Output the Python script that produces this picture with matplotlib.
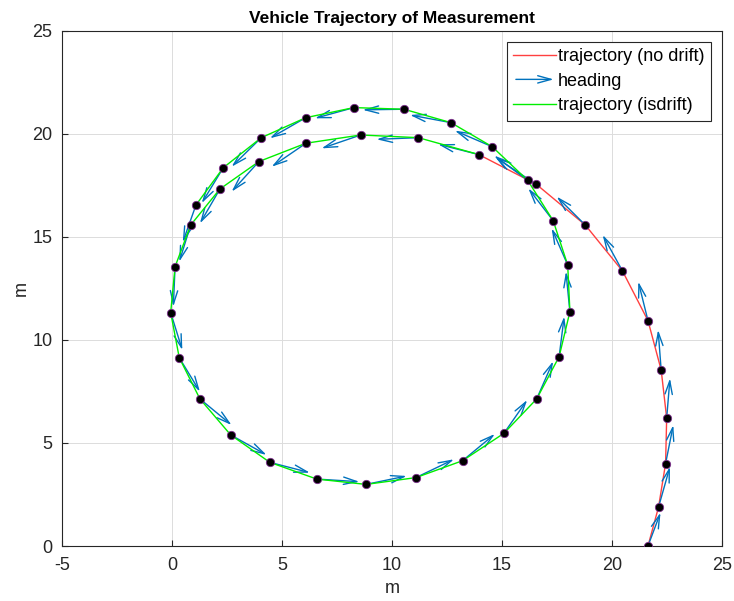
import matplotlib.pyplot as plt
from matplotlib.lines import Line2D
from matplotlib.patches import FancyArrowPatch
from matplotlib.legend_handler import HandlerBase

plt.rcParams['font.family'] = ['Liberation Sans', 'DejaVu Sans']
plt.rcParams['axes.unicode_minus'] = False

# measured positions (m), in driving order
xs = [21.64, 22.12, 22.44, 22.49, 22.24, 21.64, 20.48, 18.79, 16.56,
      13.95, 11.2, 8.58, 6.09, 3.95, 2.18, 0.85, 0.14, -0.06, 0.33, 1.27,
      2.67, 4.45, 6.58, 8.82, 11.09, 13.21, 15.09, 16.58, 17.6, 18.09,
      17.99, 17.33, 16.17, 14.56, 12.68, 10.55, 8.27, 6.08, 4.06, 2.33, 1.09]
ys = [0.0, 1.89, 4.0, 6.21, 8.54, 10.94, 13.35, 15.58, 17.56,
      19.0, 19.82, 19.95, 19.55, 18.66, 17.33, 15.58, 13.56, 11.33, 9.14, 7.14,
      5.39, 4.06, 3.25, 2.99, 3.32, 4.14, 5.47, 7.14, 9.19, 11.37,
      13.64, 15.79, 17.75, 19.38, 20.55, 21.2, 21.28, 20.79, 19.82, 18.36, 16.55]

# heading vectors at each point
us = [0.57, 0.52, 0.35, 0.15, -0.14, -0.44, -0.9, -1.3, -1.85,
      -1.85, -1.9, -1.78, -1.56, -1.24, -0.91, -0.52, -0.08, 0.53, 0.94, 1.44,
      1.63, 1.82, 1.94, 1.85, 1.73, 1.47, 1.06, 0.75, 0.23, -0.18,
      -0.73, -1.13, -1.52, -1.7, -1.86, -1.88, -1.77, -1.63, -1.35, -0.98, -0.6]
vs = [1.62, 1.96, 1.87, 1.93, 1.95, 1.89, 1.75, 1.38, 1.3,
      0.5, -0.08, -0.65, -1.14, -1.46, -1.67, -1.78, -1.94, -1.82, -1.65, -1.27,
      -0.97, -0.5, -0.13, 0.41, 0.89, 1.3, 1.62, 1.83, 1.95, 1.95,
      1.78, 1.57, 1.2, 0.78, 0.37, -0.03, -0.52, -1.0, -1.41, -1.72, -1.8]

drift_start = 9  # index where drift begins

blue = '#0072BD'
red = '#ff4040'
green = '#00ee00'
arrow_style = '->,head_length=0.8,head_width=0.22'

fig = plt.figure(figsize=(7.34, 6.01), dpi=100)
ax = fig.add_axes([0.0845, 0.0915, 0.899, 0.857])

ax.plot(xs[:drift_start + 1], ys[:drift_start + 1], color=red, lw=1, zorder=2)

for x, y, u, v in zip(xs, ys, us, vs):
    ax.annotate('', xy=(x + u, y + v), xytext=(x, y),
                arrowprops=dict(arrowstyle=arrow_style, color=blue, lw=1,
                                shrinkA=0, shrinkB=0, mutation_scale=12),
                zorder=3)

ax.plot(xs[drift_start:], ys[drift_start:], color=green, lw=1, zorder=4)
ax.plot(xs, ys, 'o', color='black', markersize=6, markeredgecolor='#7E2F8E',
        markeredgewidth=0.6, zorder=5)


class ArrowHandler(HandlerBase):
    def create_artists(self, legend, orig, xdescent, ydescent, width, height, fontsize, trans):
        p = FancyArrowPatch((-xdescent, height / 2 - ydescent),
                            (width - xdescent, height / 2 - ydescent),
                            arrowstyle=arrow_style, color=blue, lw=1,
                            mutation_scale=12, transform=trans)
        return [p]


h_red = Line2D([], [], color=red, lw=1)
h_arrow = Line2D([], [], color=blue)
h_green = Line2D([], [], color=green, lw=1)
leg = ax.legend([h_red, h_arrow, h_green],
                ['trajectory (no drift)', 'heading', 'trajectory (isdrift)'],
                handler_map={h_arrow: ArrowHandler()},
                loc='upper right', fontsize=13, fancybox=False, framealpha=1,
                edgecolor='#262626', borderpad=0.35, labelspacing=0.42,
                handlelength=2.4, handletextpad=0.1, borderaxespad=0.6)
leg.get_frame().set_linewidth(0.8)

ax.set_xlim(-5, 25)
ax.set_ylim(0, 25)
ax.set_xticks(range(-5, 26, 5))
ax.set_yticks(range(0, 26, 5))
ax.grid(True, color='#dcdcdc', lw=0.7)
ax.set_axisbelow(True)
ax.tick_params(direction='in', labelsize=13, colors='#262626', length=4)
ax.tick_params(axis='x', pad=8)
ax.tick_params(axis='y', pad=7)
for s in ax.spines.values():
    s.set_color('#262626')
    s.set_linewidth(0.8)

ax.set_xlabel('m', fontsize=13, color='#262626', labelpad=4)
ax.set_ylabel('m', fontsize=13, color='#262626', labelpad=2)
ax.set_title('Vehicle Trajectory of Measurement', fontsize=12.5, fontweight='bold', pad=6)

fig.savefig('out.png', dpi=100)
